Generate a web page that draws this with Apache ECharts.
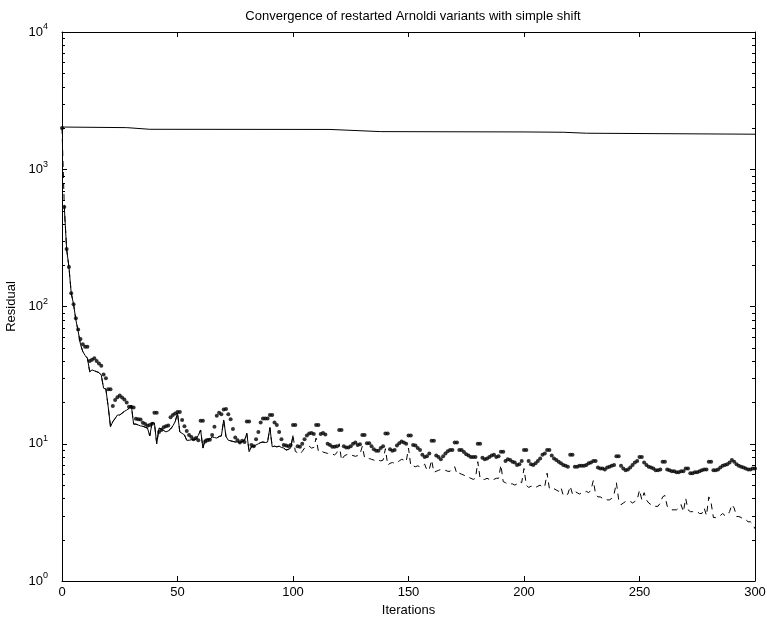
<!DOCTYPE html>
<html>
<head>
<meta charset="utf-8">
<script src="https://cdn.jsdelivr.net/npm/echarts@6/dist/echarts.min.js"></script>
<style>
  html, body { margin: 0; padding: 0; background: #fff; }
  #chart { width: 767px; height: 619px; }
</style>
</head>
<body>
<div id="chart"></div>
<script>
// iteration ticks on the x axis
const xTicks = [0, 50, 100, 150, 200, 250, 300];

// restarted Arnoldi, no progress (sparse samples of a smooth line)
const stallIter = [0, 28, 38, 116, 138, 200, 217, 227, 300];
const stallRes = [2030, 2010, 1955, 1950, 1880, 1870, 1860, 1830, 1800];

// dashed variant, one value per iteration 0..300
const dashedRes = [
  2000,
  530, 262, 194, 125, 104, 80, 66, 53, 47, 44,
  42, 33.5, 34.5, 34, 33.5, 33, 31.6, 25.4, 25, 18.6,
  13.3, 14.5, 15.3, 16.2, 16.2, 16.7, 17.2, 17.6, 18.1, 19.1,
  13.9, 13.9, 13.7, 13.5, 13.4, 13.2, 13, 11.4, 14.2, 14.2,
  10, 13, 12.8, 12.5, 12.2, 12.4, 12.8, 13.5, 14.5, 16.7,
  12.2, 11.9, 11.6, 10.6, 10.6, 10.7, 10.7, 10.8, 11.5, 12.6,
  9.3, 10.8, 10.8, 10.8, 11.2, 11.1, 11.0, 11.3, 11.4, 14.9,
  11.3, 10.6, 10.5, 10.4, 10.3, 10.3, 10.2, 10.4, 10.6, 11.9,
  8.75, 9.5, 9.6, 9.8, 10.0, 10.2, 10.3, 10.2, 10.3, 13.1,
  9.5, 9.6, 9.5, 9.6, 9.4, 9.3, 9.0, 9.1, 9.3, 11.5,
  8.8, 8.6, 8.4, 8.8, 9.3, 9.6, 9.6, 9.3, 9.4, 11.0,
  8.8, 8.9, 8.7, 8.6, 8.5, 8.5, 8.4, 8.3, 8.6, 10,
  7.6, 8.1, 8.3, 8.4, 8.3, 8.2, 8.1, 8.2, 8.4, 9.6,
  7.9, 7.9, 7.8, 7.7, 7.6, 7.5, 7.6, 7.5, 7.6, 9.2,
  7.0, 7.2, 7.3, 7.2, 7.3, 7.5, 7.7, 7.6, 7.4, 9.3,
  6.9, 6.9, 6.8, 6.9, 6.8, 6.9, 7.1, 6.4, 6.5, 7.6,
  6.2, 6.3, 6.4, 6.5, 6.5, 6.4, 6.3, 6.3, 6.6, 6.8,
  6.0, 6.1, 6.0, 5.9, 5.8, 5.7, 5.6, 5.5, 5.6, 7.4,
  5.6, 5.5, 5.5, 5.6, 5.5, 5.4, 5.5, 5.6, 5.6, 7.0,
  5.3, 5.2, 5.1, 5.1, 5.1, 5.0, 5.1, 5.3, 5.2, 6.6,
  5.0, 4.8, 4.9, 4.9, 4.8, 4.9, 5.0, 4.8, 4.9, 6.1,
  4.7, 4.7, 4.7, 4.6, 4.5, 4.8, 4.2, 4.2, 4.3, 4.9,
  4.3, 4.5, 4.4, 4.3, 4.4, 4.4, 4.5, 4.4, 4.6, 5.4,
  4.3, 4.1, 4.1, 4.0, 4.0, 3.9, 3.9, 4.0, 4.3, 5.2,
  3.9, 3.6, 3.7, 3.8, 3.8, 3.8, 3.7, 3.8, 3.9, 4.6,
  3.9, 4.4, 3.9, 3.7, 3.6, 3.5, 3.5, 3.5, 3.7, 4.1,
  4.2, 3.5, 3.4, 3.3, 3.3, 3.3, 3.4, 3.6, 3.2, 4.0,
  3.3, 3.2, 3.2, 3.2, 3.2, 3.1, 3.1, 3.4, 3.0, 4.1,
  3.7, 2.9, 2.9, 3.0, 3.0, 3.1, 3.0, 3.0, 3.2, 3.6,
  3.4, 2.95, 2.95, 2.9, 2.8, 2.8, 2.7, 2.7, 2.6, 2.4
];

// dotted variant, one value per iteration 0..300
const dottedRes = [
  2000,
  530, 262, 194, 125, 104, 82, 68, 58, 53, 51,
  51, 40, 41, 42, 40, 38.5, 37, 32, 30, 25,
  25, 18.8, 20.8, 21.8, 22.5, 21.7, 21, 20, 18.6, 18.5,
  18.4, 15.2, 15.1, 15.0, 14.2, 13.9, 13.5, 13.7, 14, 16.8,
  16.8, 12.2, 12.6, 13.2, 13.4, 13.6, 15.6, 16.2, 16.6, 17,
  17, 14.9, 13.4, 12.4, 11.6, 11.2, 10.8, 11, 10.6, 14.7,
  14.7, 10.4, 10.6, 10.7, 11.6, 13.3, 16, 16.8, 16.4, 17.8,
  17.9, 16.4, 15.1, 12.8, 11.1, 10.6, 10.2, 10.5, 10.3, 14.5,
  14.5, 9.8, 9.6, 10.8, 12.2, 14.3, 15.3, 15.3, 15.3, 16.2,
  16.2, 14.3, 13.7, 12.2, 10.8, 9.8, 9.7, 9.6, 9.8, 13.7,
  13.7, 9.6, 9.5, 10, 10.8, 11.5, 11.9, 12, 11.8, 13.7,
  13.7, 11.8, 12, 11.7, 10, 9.8, 9.5, 9.5, 9.6, 12.6,
  12.6, 9.6, 9.4, 9.4, 9.6, 10, 10.2, 9.8, 9.9, 11.6,
  11.6, 10.1, 10.1, 9.6, 9.1, 8.9, 8.9, 9.3, 9.6, 11.9,
  11.9, 9.1, 8.9, 9.0, 9.7, 10.1, 10.4, 10.2, 10.0, 11.5,
  11.5, 9.8, 9.7, 9.3, 9.0, 8.3, 8.0, 8.1, 8.5, 10.5,
  10.5, 8.2, 8.0, 7.7, 8.1, 8.5, 8.8, 9.0, 9.0, 10.2,
  10.2, 9.0, 9.0, 8.7, 8.4, 8.2, 8.0, 8.0, 8.0, 10,
  10, 7.9, 7.7, 7.8, 8.0, 8.2, 8.3, 8.0, 8.1, 8.75,
  8.75, 7.5, 7.7, 7.6, 7.4, 7.3, 7.0, 7.1, 7.5, 9.0,
  9.0, 7.5, 7.1, 7.0, 7.2, 7.5, 7.8, 8.3, 8.5, 9.0,
  9.0, 8.2, 7.8, 7.6, 7.4, 7.2, 7.0, 6.9, 6.8, 8.3,
  8.3, 6.8, 6.8, 6.9, 6.9, 6.9, 7.0, 7.2, 7.3, 7.5,
  7.5, 6.7, 6.6, 6.6, 6.5, 6.7, 6.8, 6.9, 7.0, 8.1,
  8.1, 6.9, 6.6, 6.4, 6.5, 6.7, 7.0, 7.3, 7.5, 8.0,
  8.0, 7.3, 7.0, 6.8, 6.7, 6.6, 6.4, 6.4, 6.5, 7.4,
  7.4, 6.5, 6.4, 6.3, 6.3, 6.2, 6.2, 6.3, 6.3, 6.6,
  6.6, 6.1, 6.1, 6.2, 6.2, 6.3, 6.4, 6.5, 6.5, 7.4,
  7.4, 6.4, 6.4, 6.5, 6.7, 6.9, 7.0, 7.1, 7.3, 7.6,
  7.4, 7.1, 6.9, 6.8, 6.7, 6.6, 6.5, 6.5, 6.6, 6.6
];

// the lower line looks solid over the first 100 iterations
const SOLID_UNTIL = 100;

const FONT = 'Liberation Sans, Arial, Helvetica, sans-serif';

const chart = echarts.init(document.getElementById('chart'));

const pairs = (arr) => arr.map((v, i) => [i, v]);

const yLabel = (v) => {
  const e = Math.round(Math.log10(v));
  return '{b|10}{s|' + e + '}';
};

const commonX = {
  type: 'value',
  min: xTicks[0],
  max: xTicks[xTicks.length - 1],
  interval: xTicks[1] - xTicks[0],
  splitLine: { show: false },
  axisLine: { onZero: false, lineStyle: { color: '#000', width: 1 } },
  axisTick: { inside: true, length: 5, lineStyle: { color: '#000' } },
};

const commonY = {
  type: 'log',
  logBase: 10,
  min: 1,
  max: 10000,
  splitLine: { show: false },
  axisLine: { onZero: false, lineStyle: { color: '#000', width: 1 } },
  axisTick: { inside: true, length: 5, lineStyle: { color: '#000' } },
};

const option = {
  animation: false,
  backgroundColor: '#fff',
  title: {
    text: 'Convergence of restarted Arnoldi variants with simple shift',
    left: 408,
    top: 5,
    textAlign: 'center',
    textStyle: { fontFamily: FONT, fontSize: 13, fontWeight: 'normal', color: '#000' },
  },
  grid: { left: 62, right: 12, top: 32, bottom: 38, outerBoundsMode: 'none' },
  xAxis: [
    {
      ...commonX,
      position: 'bottom',
      name: 'Iterations',
      nameLocation: 'middle',
      nameGap: 19,
      nameTextStyle: { fontFamily: FONT, fontSize: 13, color: '#000' },
      axisLabel: { fontFamily: FONT, fontSize: 13, color: '#000', margin: 5 },
    },
    { ...commonX, position: 'top', axisLabel: { show: false } },
  ],
  yAxis: [
    {
      ...commonY,
      position: 'left',
      name: 'Residual',
      nameLocation: 'middle',
      nameGap: 40,
      nameRotate: 90,
      nameTextStyle: { fontFamily: FONT, fontSize: 13, color: '#000' },
      axisLabel: {
        color: '#000',
        margin: 14,
        formatter: yLabel,
        rich: {
          b: { fontFamily: FONT, fontSize: 13, color: '#000' },
          s: { fontFamily: FONT, fontSize: 9, color: '#000', padding: [0, 0, 10, 0] },
        },
      },
    },
    { ...commonY, position: 'right', axisLabel: { show: false } },
  ],
  series: [
    {
      name: 'stall',
      type: 'line',
      data: stallIter.map((it, i) => [it, stallRes[i]]),
      showSymbol: false,
      lineStyle: { color: '#000', width: 1 },
      z: 3,
    },
    {
      name: 'dashed',
      type: 'line',
      data: pairs(dashedRes),
      showSymbol: false,
      lineStyle: { color: '#000', width: 1, type: [6, 5] },
      z: 3,
    },
    {
      name: 'dashed-early',
      type: 'line',
      data: pairs(dashedRes).slice(1, SOLID_UNTIL + 1),
      showSymbol: false,
      lineStyle: { color: '#000', width: 1 },
      z: 3,
    },
    {
      name: 'dotted',
      type: 'scatter',
      data: pairs(dottedRes),
      symbol: 'circle',
      symbolSize: 4,
      itemStyle: { color: '#000' },
      z: 4,
    },
  ],
};

chart.setOption(option);

// MATLAB-style minor ticks at 2..9 of each decade, on both sides of the box
const xl = chart.convertToPixel({ xAxisIndex: 0 }, xTicks[0]);
const xr = chart.convertToPixel({ xAxisIndex: 0 }, xTicks[xTicks.length - 1]);
const minor = [];
for (let e = 0; e < 4; e += 1) {
  for (let m = 2; m <= 9; m += 1) {
    const y = Math.round(chart.convertToPixel({ yAxisIndex: 0 }, m * Math.pow(10, e))) + 0.5;
    minor.push({ type: 'line', shape: { x1: xl, y1: y, x2: xl + 3, y2: y }, style: { stroke: '#000', lineWidth: 1 }, silent: true });
    minor.push({ type: 'line', shape: { x1: xr - 3, y1: y, x2: xr, y2: y }, style: { stroke: '#000', lineWidth: 1 }, silent: true });
  }
}
chart.setOption({ graphic: minor });
</script>
</body>
</html>
